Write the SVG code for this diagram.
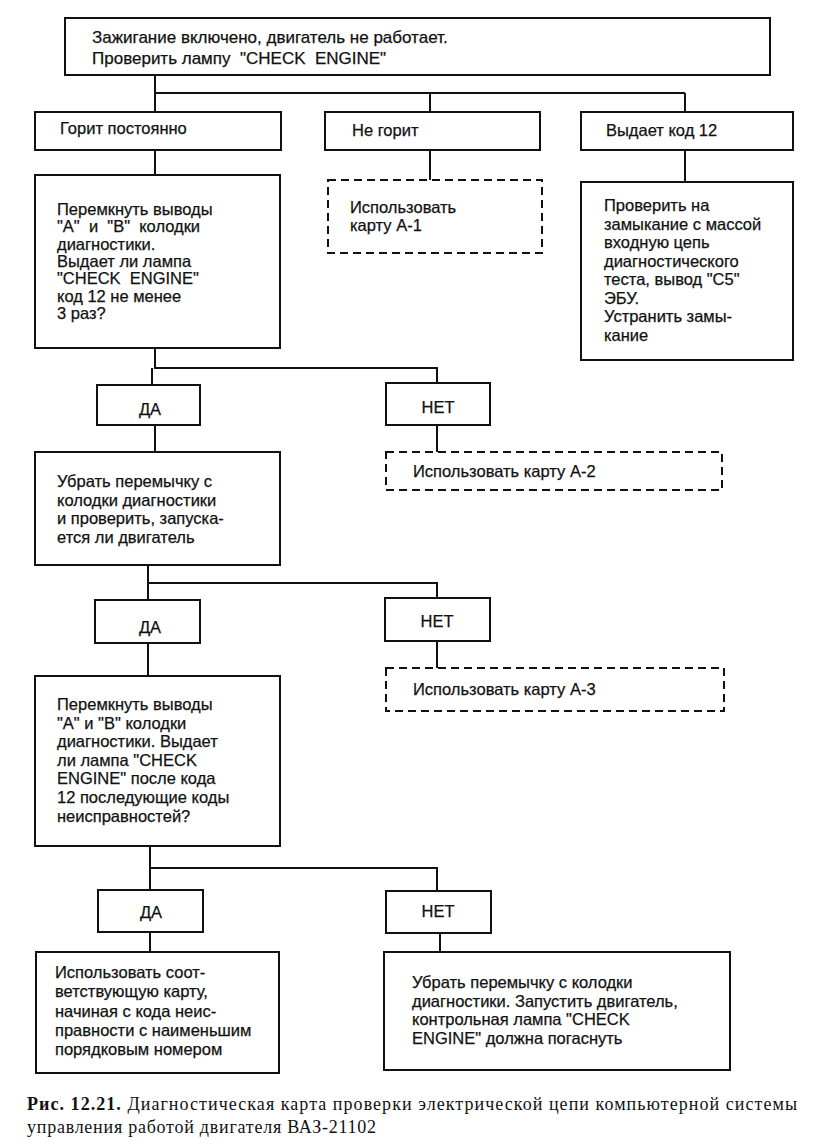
<svg xmlns="http://www.w3.org/2000/svg" width="828" height="1147" viewBox="0 0 828 1147">
<style>
.box{fill:#fff;stroke:#111;stroke-width:2}
.dash{fill:#fff;stroke:#111;stroke-width:2;stroke-dasharray:8 5}
.ln{fill:none;stroke:#111;stroke-width:2}
.t{font-family:"Liberation Sans",Arial,sans-serif;font-size:16.5px;fill:#111;stroke:#111;stroke-width:0.25}
.c{text-anchor:middle}
.cap{font-family:"Liberation Serif","Times New Roman",serif;font-size:18px;fill:#111}
</style>
<rect width="828" height="1147" fill="#fff"/>
<g id="connectors">
<path class="ln" d="M155 75V93M155 93H685M155 93V112M430 93V112M685 93V112"/>
<path class="ln" d="M155 150V175M430 150V180M685 150V182"/>
<path class="ln" d="M155 348V368H437V383M152 368V385"/>
<path class="ln" d="M155 425V452M437 425V452"/>
<path class="ln" d="M148 565V583H437V598M148 583V600"/>
<path class="ln" d="M148 643V676M437 641V668"/>
<path class="ln" d="M150 846V868H437V891M150 868V890"/>
<path class="ln" d="M150 932V952M440 933V952"/>
</g>
<g id="n_start"><rect class="box" x="65" y="18" width="705" height="57"/>
<text class="t" style="font-size:17px" xml:space="preserve"><tspan x="92" y="43">Зажигание включено, двигатель не работает.</tspan><tspan x="92" y="64">Проверить лампу  "CHECK  ENGINE"</tspan></text></g>
<g id="n_gorit"><rect class="box" x="35" y="112" width="246" height="38"/><text class="t" x="60" y="134">Горит постоянно</text></g>
<g id="n_negorit"><rect class="box" x="325" y="112" width="215" height="38"/><text class="t" x="352" y="136">Не горит</text></g>
<g id="n_kod12"><rect class="box" x="581" y="112" width="212" height="38"/><text class="t" x="606" y="136">Выдает код 12</text></g>
<g id="n_per1"><rect class="box" x="35" y="175" width="245" height="173"/>
<text class="t" xml:space="preserve"><tspan x="57" y="215">Перемкнуть выводы</tspan><tspan x="57" dy="17.3">"А"  и  "В"  колодки</tspan><tspan x="57" dy="17.3">диагностики.</tspan><tspan x="57" dy="17.3">Выдает ли лампа</tspan><tspan x="57" dy="17.3">"CHECK  ENGINE"</tspan><tspan x="57" dy="17.3">код 12 не менее</tspan><tspan x="57" dy="17.3">3 раз?</tspan></text></g>
<g id="n_a1"><rect class="dash" x="328" y="180" width="214" height="73"/>
<text class="t"><tspan x="350" y="213">Использовать</tspan><tspan x="350" dy="18">карту А-1</tspan></text></g>
<g id="n_zam"><rect class="box" x="581" y="182" width="212" height="178"/>
<text class="t"><tspan x="604" y="211">Проверить на</tspan><tspan x="604" dy="18.5">замыкание с массой</tspan><tspan x="604" dy="18.5">входную цепь</tspan><tspan x="604" dy="18.5">диагностического</tspan><tspan x="604" dy="18.5">теста, вывод "С5"</tspan><tspan x="604" dy="18.5">ЭБУ.</tspan><tspan x="604" dy="18.5">Устранить замы-</tspan><tspan x="604" dy="18.5">кание</tspan></text></g>
<g id="n_da1"><rect class="box" x="97" y="385" width="103" height="40"/><text class="t c" x="150" y="415">ДА</text></g>
<g id="n_net1"><rect class="box" x="386" y="383" width="104" height="42"/><text class="t c" x="438" y="413">НЕТ</text></g>
<g id="n_ubrat1"><rect class="box" x="35" y="452" width="245" height="113"/>
<text class="t"><tspan x="57" y="487">Убрать перемычку с</tspan><tspan x="57" dy="18.7">колодки диагностики</tspan><tspan x="57" dy="18.7">и проверить, запуска-</tspan><tspan x="57" dy="18.7">ется ли двигатель</tspan></text></g>
<g id="n_a2"><rect class="dash" x="386" y="452" width="336" height="38"/><text class="t" x="413" y="477">Использовать карту А-2</text></g>
<g id="n_da2"><rect class="box" x="95" y="600" width="105" height="43"/><text class="t c" x="150" y="633">ДА</text></g>
<g id="n_net2"><rect class="box" x="385" y="598" width="105" height="43"/><text class="t c" x="437" y="627">НЕТ</text></g>
<g id="n_per2"><rect class="box" x="35" y="676" width="245" height="170"/>
<text class="t"><tspan x="57" y="710">Перемкнуть выводы</tspan><tspan x="57" dy="18.6">"А" и "В" колодки</tspan><tspan x="57" dy="18.6">диагностики. Выдает</tspan><tspan x="57" dy="18.6">ли лампа "CHECK</tspan><tspan x="57" dy="18.6">ENGINE" после кода</tspan><tspan x="57" dy="18.6">12 последующие коды</tspan><tspan x="57" dy="18.6">неисправностей?</tspan></text></g>
<g id="n_a3"><rect class="dash" x="386" y="668" width="338" height="43"/><text class="t" x="413" y="695">Использовать карту А-3</text></g>
<g id="n_da3"><rect class="box" x="98" y="890" width="105" height="42"/><text class="t c" x="151" y="918">ДА</text></g>
<g id="n_net3"><rect class="box" x="386" y="891" width="105" height="42"/><text class="t c" x="438" y="917">НЕТ</text></g>
<g id="n_ispolz"><rect class="box" x="36" y="952" width="243" height="121"/>
<text class="t"><tspan x="55" y="978">Использовать соот-</tspan><tspan x="55" dy="19.3">ветствующую карту,</tspan><tspan x="55" dy="19.3">начиная с кода неис-</tspan><tspan x="55" dy="19.3">правности с наименьшим</tspan><tspan x="55" dy="19.3">порядковым номером</tspan></text></g>
<g id="n_ubrat2"><rect class="box" x="384" y="952" width="346" height="118"/>
<text class="t"><tspan x="412" y="988">Убрать перемычку с колодки</tspan><tspan x="412" dy="18.5">диагностики. Запустить двигатель,</tspan><tspan x="412" dy="18.5">контрольная лампа "CHECK</tspan><tspan x="412" dy="18.5">ENGINE" должна погаснуть</tspan></text></g>
<g id="caption">
<text class="cap" x="27" y="1110" textLength="770" lengthAdjust="spacing"><tspan font-weight="bold">Рис. 12.21.</tspan> Диагностическая карта проверки электрической цепи компьютерной системы</text>
<text class="cap" x="27" y="1133" textLength="349" lengthAdjust="spacing">управления работой двигателя ВАЗ-21102</text>
</g>
</svg>
